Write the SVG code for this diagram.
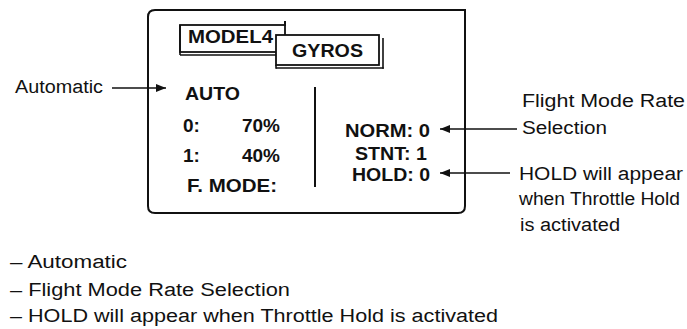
<svg xmlns="http://www.w3.org/2000/svg" width="687" height="329" viewBox="0 0 687 329">
  <defs>
    <marker id="head" viewBox="0 0 10 8" refX="10" refY="4" markerWidth="10" markerHeight="8" markerUnits="userSpaceOnUse" orient="auto">
      <path d="M0,0 L10,4 L0,8 Z" fill="#111"/>
    </marker>
    <style>
      text { font-family: "Liberation Sans", Arial, sans-serif; fill: #111; }
      .lbl { font-size: 18px; }
      .scr { font-size: 19px; font-weight: bold; }
      .edge { stroke: #111; stroke-width: 2; fill: none; }
      .thin { stroke: #111; stroke-width: 1.6; fill: none; }
      .box { stroke: #111; stroke-width: 1.8; fill: #fff; }
    </style>
  </defs>

  <rect width="687" height="329" fill="#fff"/>

  <!-- radio screen outline -->
  <g id="screen">
    <path class="edge" d="M155,10 H465 V206 Q465,213 458,213 H155 Q148,213 148,206 V17 Q148,10 155,10 Z"/>
    <line class="edge" x1="315" y1="87" x2="315" y2="187"/>
  </g>

  <!-- MODEL4 tab -->
  <g id="model4">
    <rect class="box" x="180" y="25" width="105" height="27"/>
    <line class="thin" x1="180" y1="55" x2="277" y2="55"/>
    <line class="thin" x1="180" y1="25" x2="180" y2="55"/>
    <line class="edge" x1="285" y1="21" x2="285" y2="26"/>
    <text class="scr" x="188" y="43" font-size="18" textLength="85" lengthAdjust="spacingAndGlyphs">MODEL4</text>
  </g>

  <!-- GYROS tab -->
  <g id="gyros">
    <rect class="box" x="276" y="35" width="103" height="30"/>
    <line class="thin" x1="383" y1="38" x2="383" y2="68.8"/>
    <line class="thin" x1="276" y1="68" x2="383.8" y2="68"/>
    <line class="thin" x1="276" y1="65" x2="276" y2="68.8"/>
    <text class="scr" x="292" y="57" textLength="71" lengthAdjust="spacingAndGlyphs">GYROS</text>
  </g>

  <!-- left column of the screen -->
  <g id="auto-column">
    <text class="scr" x="185" y="100" textLength="55" lengthAdjust="spacingAndGlyphs">AUTO</text>
    <text class="scr" x="183" y="132">0:</text>
    <text class="scr" x="242" y="132" textLength="38" lengthAdjust="spacingAndGlyphs">70%</text>
    <text class="scr" x="183" y="162">1:</text>
    <text class="scr" x="242" y="162" textLength="38" lengthAdjust="spacingAndGlyphs">40%</text>
    <text class="scr" x="187" y="192" textLength="90" lengthAdjust="spacingAndGlyphs">F. MODE:</text>
  </g>

  <!-- right column of the screen -->
  <g id="mode-column">
    <text class="scr" x="345" y="137" textLength="85" lengthAdjust="spacingAndGlyphs">NORM: 0</text>
    <text class="scr" x="355" y="160" textLength="72" lengthAdjust="spacingAndGlyphs">STNT: 1</text>
    <text class="scr" x="352" y="181" textLength="78" lengthAdjust="spacingAndGlyphs">HOLD: 0</text>
  </g>

  <!-- callout labels -->
  <g id="label-automatic">
    <text class="lbl" x="15" y="93" font-size="19" textLength="88" lengthAdjust="spacingAndGlyphs">Automatic</text>
  </g>
  <g id="label-rate">
    <text class="lbl" x="522" y="107" font-size="19" textLength="163" lengthAdjust="spacingAndGlyphs">Flight Mode Rate</text>
    <text class="lbl" x="522" y="134" font-size="19" textLength="85" lengthAdjust="spacingAndGlyphs">Selection</text>
  </g>
  <g id="label-hold">
    <text class="lbl" x="519" y="180" font-size="19" textLength="164" lengthAdjust="spacingAndGlyphs">HOLD will appear</text>
    <text class="lbl" x="519" y="205" font-size="19" textLength="161" lengthAdjust="spacingAndGlyphs">when Throttle Hold</text>
    <text class="lbl" x="520" y="231" font-size="19" textLength="100" lengthAdjust="spacingAndGlyphs">is activated</text>
  </g>

  <!-- connectors -->
  <g id="connectors">
    <line class="thin" x1="112" y1="88" x2="166" y2="88" marker-end="url(#head)"/>
    <line class="thin" x1="517" y1="129" x2="440" y2="129" marker-end="url(#head)"/>
    <line class="thin" x1="510" y1="173" x2="440" y2="173" marker-end="url(#head)"/>
  </g>

  <!-- legend -->
  <g id="legend">
    <text class="lbl" x="10" y="268" textLength="117" lengthAdjust="spacingAndGlyphs">– Automatic</text>
    <text class="lbl" x="10" y="296" textLength="280" lengthAdjust="spacingAndGlyphs">– Flight Mode Rate Selection</text>
    <text class="lbl" x="10" y="322" textLength="488" lengthAdjust="spacingAndGlyphs">– HOLD will appear when Throttle Hold is activated</text>
  </g>
</svg>
